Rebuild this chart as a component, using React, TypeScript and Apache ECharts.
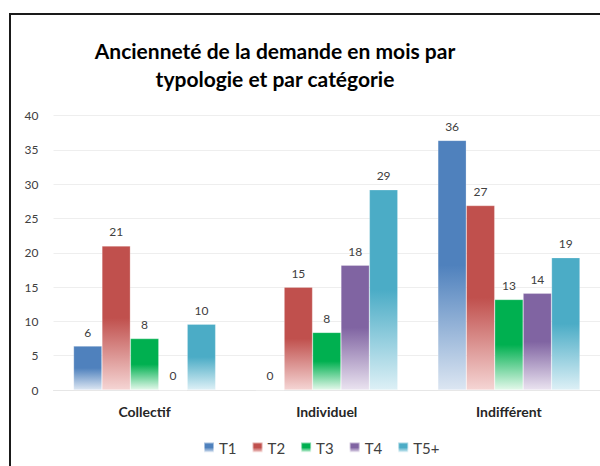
import React, { useEffect, useRef } from "react";
import * as echarts from "echarts";

const categories = ["Collectif", "Individuel", "Indifférent"];
const seriesNames = ["T1", "T2", "T3", "T4", "T5+"];
const t1 = [6.4, 0, 36.4];
const t2 = [21.0, 15.0, 26.9];
const t3 = [7.5, 8.4, 13.2];
const t4 = [0, 18.2, 14.1];
const t5 = [9.6, 29.2, 19.3];
const yTicks = { min: 0, max: 40, interval: 5 };
const titleText = "Ancienneté de la demande en mois par\ntypologie et par catégorie";

const colors = ["#4F81BD", "#C0504D", "#00B050", "#8064A2", "#4BACC6"];
const lightColors = ["#DCE6F2", "#F5D5D4", "#E3F8EA", "#EAE3F0", "#DDF0F6"];

export default function App() {
  const ref = useRef<HTMLDivElement>(null);
  useEffect(() => {
    if (!ref.current) return;
    const chart = echarts.init(ref.current, null, { renderer: "svg" });
    const data = [t1, t2, t3, t4, t5];
    const grad = (i: number) =>
      new echarts.graphic.LinearGradient(0, 0, 0, 1, [
        { offset: 0, color: colors[i] },
        { offset: 0.5, color: colors[i] },
        { offset: 1, color: lightColors[i] },
      ]);
    chart.setOption({
      animation: false,
      backgroundColor: "#ffffff",
      title: {
        text: titleText,
        left: 275,
        top: 36,
        textAlign: "center",
        padding: 0,
        textStyle: {
          fontFamily: "Lato",
          fontWeight: "bold",
          fontSize: 21,
          lineHeight: 28,
          color: "#000000",
        },
      },
      legend: {
        data: seriesNames,
        left: 203,
        top: 440,
        padding: 0,
        itemWidth: 10,
        itemHeight: 10,
        itemGap: 15,
        icon: "rect",
        textStyle: { fontFamily: "Lato", fontSize: 15, color: "#404040" },
      },
      grid: { left: 53.5, right: -3.5, top: 115.7, bottom: 76, containLabel: false },
      xAxis: {
        type: "category",
        data: categories,
        axisLine: { show: true, lineStyle: { color: "#e6e6e6" } },
        axisTick: { show: false },
        axisLabel: {
          margin: 14,
          fontFamily: "Lato",
          fontWeight: "bold",
          fontSize: 14,
          color: "#262626",
        },
      },
      yAxis: {
        type: "value",
        min: yTicks.min,
        max: yTicks.max,
        interval: yTicks.interval,
        axisLine: { show: false },
        axisTick: { show: false },
        splitLine: { lineStyle: { color: "#eeeeee", width: 1 } },
        axisLabel: { margin: 15, fontFamily: "Lato", fontSize: 12, color: "#404040" },
      },
      graphic: [
        {
          type: "rect",
          shape: { x: 10, y: 14, width: 700, height: 600 },
          style: { fill: "none", stroke: "#1a1a1a", lineWidth: 2 },
          silent: true,
          z: 100,
        },
      ],
      series: data.map((vals, i) => ({
        name: seriesNames[i],
        type: "bar",
        data: vals,
        barGap: "0%",
        barCategoryGap: "22%",
        itemStyle: { color: grad(i), borderColor: "rgba(255,255,255,0.5)", borderWidth: 0.5 },
        label: {
          show: true,
          position: "top",
          distance: 8,
          fontFamily: "Lato",
          fontSize: 12,
          color: "#404040",
          formatter: (p: any) => String(Math.round(p.value)),
        },
      })),
    });
    return () => chart.dispose();
  }, []);
  return (
    <div
      ref={ref}
      style={{ position: "absolute", left: 0, top: 0, width: 600, height: 466 }}
    />
  );
}
